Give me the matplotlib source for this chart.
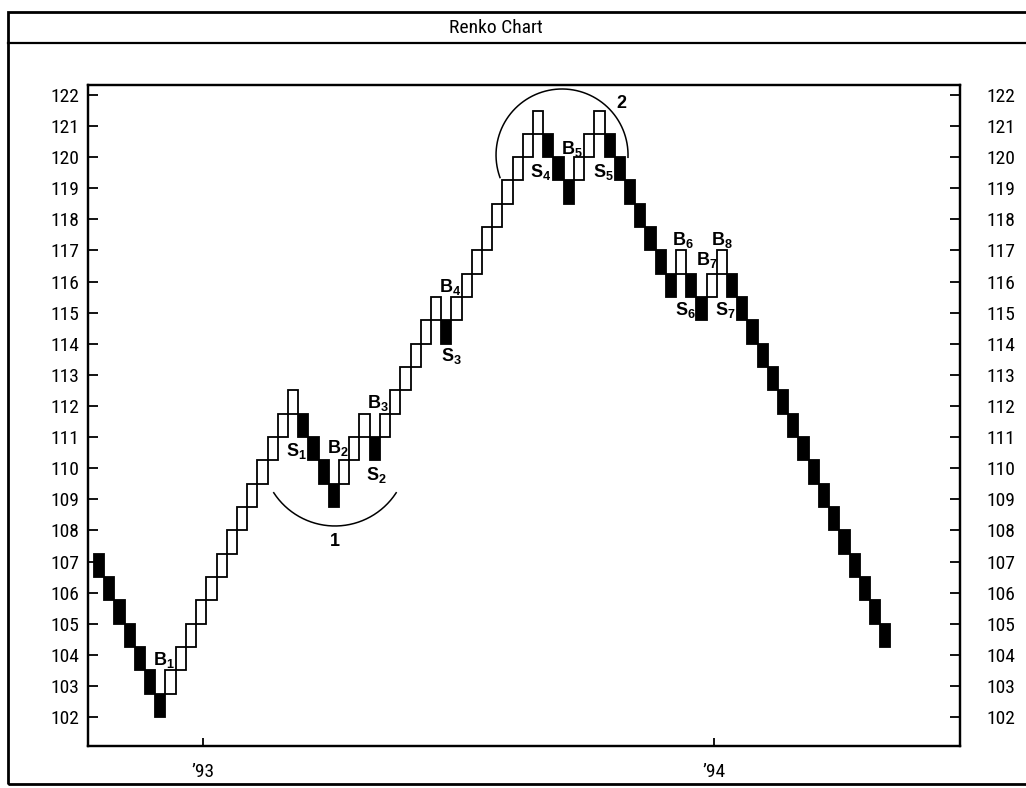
import matplotlib
matplotlib.use("Agg")
import matplotlib.pyplot as plt
from matplotlib.patches import Rectangle
from matplotlib.lines import Line2D
from matplotlib import font_manager
import numpy as np

# ---------------- data ----------------
brick_size = 0.75
# bottom price of each Renko brick, in column order
brick_bottom = [106.5, 105.75, 105.0, 104.25, 103.5, 102.75, 102.0,
                102.75, 103.5, 104.25, 105.0, 105.75, 106.5, 107.25, 108.0,
                108.75, 109.5, 110.25, 111.0, 111.75,
                111.0, 110.25, 109.5, 108.75,
                109.5, 110.25, 111.0,
                110.25,
                111.0, 111.75, 112.5, 113.25, 114.0, 114.75,
                114.0,
                114.75, 115.5, 116.25, 117.0, 117.75, 118.5, 119.25, 120.0, 120.75,
                120.0, 119.25, 118.5,
                119.25, 120.0, 120.75,
                120.0, 119.25, 118.5, 117.75, 117.0, 116.25, 115.5,
                116.25,
                115.5, 114.75,
                115.5, 116.25,
                115.5, 114.75, 114.0, 113.25, 112.5, 111.75, 111.0, 110.25,
                109.5, 108.75, 108.0, 107.25, 106.5, 105.75, 105.0, 104.25]
# 1 = rising (white) brick, 0 = falling (black) brick
brick_up = [0, 0, 0, 0, 0, 0, 0,
            1, 1, 1, 1, 1, 1, 1, 1,
            1, 1, 1, 1, 1,
            0, 0, 0, 0,
            1, 1, 1,
            0,
            1, 1, 1, 1, 1, 1,
            0,
            1, 1, 1, 1, 1, 1, 1, 1, 1,
            0, 0, 0,
            1, 1, 1,
            0, 0, 0, 0, 0, 0, 0,
            1,
            0, 0,
            1, 1,
            0, 0, 0, 0, 0, 0, 0, 0,
            0, 0, 0, 0, 0, 0, 0, 0]

y_ticks = list(range(102, 123))
x_tick_pos = [10.7, 60.7]
x_tick_labels = ["\u201993", "\u201994"]

signal_letters = ["B", "S", "B", "S", "B", "B", "S", "B", "S", "S",
                  "B", "B", "B", "S", "S"]
signal_numbers = ["1", "1", "2", "2", "3", "4", "3", "5", "4", "5",
                  "6", "7", "8", "6", "7"]
signal_x = [6.86, 19.8, 23.9, 27.7, 27.8, 34.9, 35.0, 46.8, 43.7, 49.9,
            57.7, 60.0, 61.5, 57.9, 61.8]
signal_y = [103.83, 110.55, 110.65, 109.78, 112.1, 115.83, 113.61, 120.26,
            119.52, 119.52, 117.34, 116.69, 117.34, 115.09, 115.09]

# ---------------- fonts ----------------
avail = {f.name for f in font_manager.fontManager.ttflist}
narrow = "Liberation Sans"
for cand in ["Roboto Condensed", "Liberation Sans Narrow", "Archivo Narrow",
             "Asap Condensed"]:
    if cand in avail:
        narrow = cand
        break

plt.rcParams["font.family"] = [narrow, "DejaVu Sans"]
plt.rcParams["mathtext.fontset"] = "custom"
plt.rcParams["mathtext.rm"] = "Liberation Sans"
plt.rcParams["mathtext.bf"] = "Liberation Sans:bold"

W, H = 1026, 788
fig = plt.figure(figsize=(W / 100, H / 100), dpi=100)
fig.patch.set_facecolor("white")

ax = fig.add_axes([88 / W, 1 - 746 / H, (960 - 88) / W, (746 - 85) / H])
ax.set_xlim(-0.59, 84.82)
ax.set_ylim(101.07, 122.32)

for k, (b, up) in enumerate(zip(brick_bottom, brick_up)):
    ax.add_patch(Rectangle((k, b), 1, brick_size,
                           facecolor="white" if up else "black",
                           edgecolor="black", linewidth=1.3, zorder=3 if not up else 2))

for s in ax.spines.values():
    s.set_linewidth(1.6)
ax.set_yticks(y_ticks)
ax.set_yticklabels([str(v) for v in y_ticks])
ax.set_xticks(x_tick_pos)
ax.set_xticklabels(x_tick_labels)
ax.tick_params(axis="y", direction="in", length=7, width=1.3, left=True, right=False,
               labelsize=14, pad=6)
ax.tick_params(axis="x", direction="in", length=6, width=1.3, labelsize=14, pad=12)

ax2 = ax.twinx()
ax2.set_ylim(ax.get_ylim())
ax2.set_yticks(y_ticks)
ax2.set_yticklabels([str(v) for v in y_ticks])
ax2.tick_params(axis="y", direction="in", length=7, width=1.3, labelsize=14, pad=19)
for s in ax2.spines.values():
    s.set_linewidth(1.6)

for L, n, x, y in zip(signal_letters, signal_numbers, signal_x, signal_y):
    ax.text(x, y, r"$\mathbf{%s}_{\mathbf{%s}}$" % (L, n), fontsize=13,
            ha="center", va="center", zorder=5)

px_x = (960 - 88) / (84.82 + 0.59)
px_y = (746 - 85) / (122.32 - 101.07)

def arc(cx, cy, r_px, t1, t2):
    t = np.radians(np.linspace(t1, t2, 200))
    ax.plot(cx + r_px / px_x * np.cos(t), cy + r_px / px_y * np.sin(t),
            color="black", lw=1.1, zorder=4)

arc(23.6, 110.49, 73, 213, 327)
arc(45.84, 120.07, 66, -2, 200)
ax.text(23.6, 107.66, "1", fontsize=13, fontweight="bold", ha="center", va="center",
        family="Liberation Sans")
ax.text(51.7, 121.71, "2", fontsize=13, fontweight="bold", ha="center", va="center",
        family="Liberation Sans")

fig.add_artist(Rectangle((8 / W, 1 - 784 / H), (1060 - 8) / W, (784 - 12) / H,
                         transform=fig.transFigure, fill=False, lw=2, clip_on=False))
fig.add_artist(Line2D([8 / W, 1.0], [1 - 43 / H, 1 - 43 / H], transform=fig.transFigure,
                      color="black", lw=1.6))
fig.text(496 / W, 1 - 28 / H, "Renko Chart", fontsize=14, ha="center", va="center")

fig.savefig("out.png", dpi=100)
